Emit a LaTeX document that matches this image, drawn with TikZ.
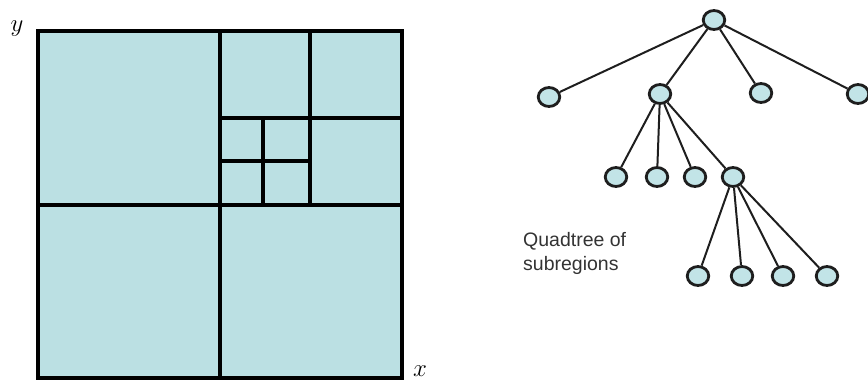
\documentclass[tikz,border=0pt]{standalone}
\usepackage{fontspec}
\newfontfamily\labelfont{Liberation Sans}
\usetikzlibrary{shapes.geometric}
\definecolor{cellfill}{HTML}{BBE0E3}
\definecolor{nodefill}{HTML}{C2E4E7}
\definecolor{edgecol}{HTML}{1E1E1E}
\tikzset{
  grid/.style={line width=4pt, draw=black},
  tnode/.style={ellipse, draw=edgecol, line width=2.8pt, fill=nodefill, minimum width=21.5pt, minimum height=19pt, inner sep=0pt},
  tedge/.style={draw=edgecol, line width=2pt},
  axislabel/.style={font=\fontsize{26}{26}\selectfont, inner sep=0pt},
  caption/.style={font=\labelfont\fontsize{19.5}{24}\selectfont, text=black!80, align=left, inner sep=0pt}
}
\begin{document}
\begin{tikzpicture}[x=1pt,y=-1pt]
\useasboundingbox (0,0) rectangle (868,383);
\clip (0,0) rectangle (868,383);
% quadtree square
\fill[cellfill] (37.5,31) rectangle (401.5,377.5);
\draw[grid] (37.5,31) rectangle (401.5,377.5);
\draw[grid] (219.5,31) -- (219.5,377.5);
\draw[grid] (37.5,205) -- (401.5,205);
\draw[grid] (309.7,31) -- (309.7,205);
\draw[grid] (219.5,118.3) -- (401.5,118.3);
\draw[grid] (263.3,118.3) -- (263.3,205);
\draw[grid] (219.5,160.7) -- (309.7,160.7);
\node[axislabel] (ylab) at (17,29) {$y$};
\node[axislabel] (xlab) at (420,371) {$x$};
% tree
\node[tnode] (r) at (714,20) {};
\node[tnode] (a1) at (549,97) {};
\node[tnode] (a2) at (660,94) {};
\node[tnode] (a3) at (761,93) {};
\node[tnode] (a4) at (858,94) {};
\node[tnode] (b1) at (616,177) {};
\node[tnode] (b2) at (657,177) {};
\node[tnode] (b3) at (695,177) {};
\node[tnode] (b4) at (733,177) {};
\node[tnode] (c1) at (698,276) {};
\node[tnode] (c2) at (742,276) {};
\node[tnode] (c3) at (783,276) {};
\node[tnode] (c4) at (827,276) {};
\foreach \t in {a1,a2,a3,a4} \draw[tedge] (r) -- (\t);
\foreach \t in {b1,b2,b3,b4} \draw[tedge] (a2) -- (\t);
\foreach \t in {c1,c2,c3,c4} \draw[tedge] (b4) -- (\t);
\node[caption, anchor=base west] (cap) at (523,270) {Quadtree of\\subregions};
\end{tikzpicture}
\end{document}
